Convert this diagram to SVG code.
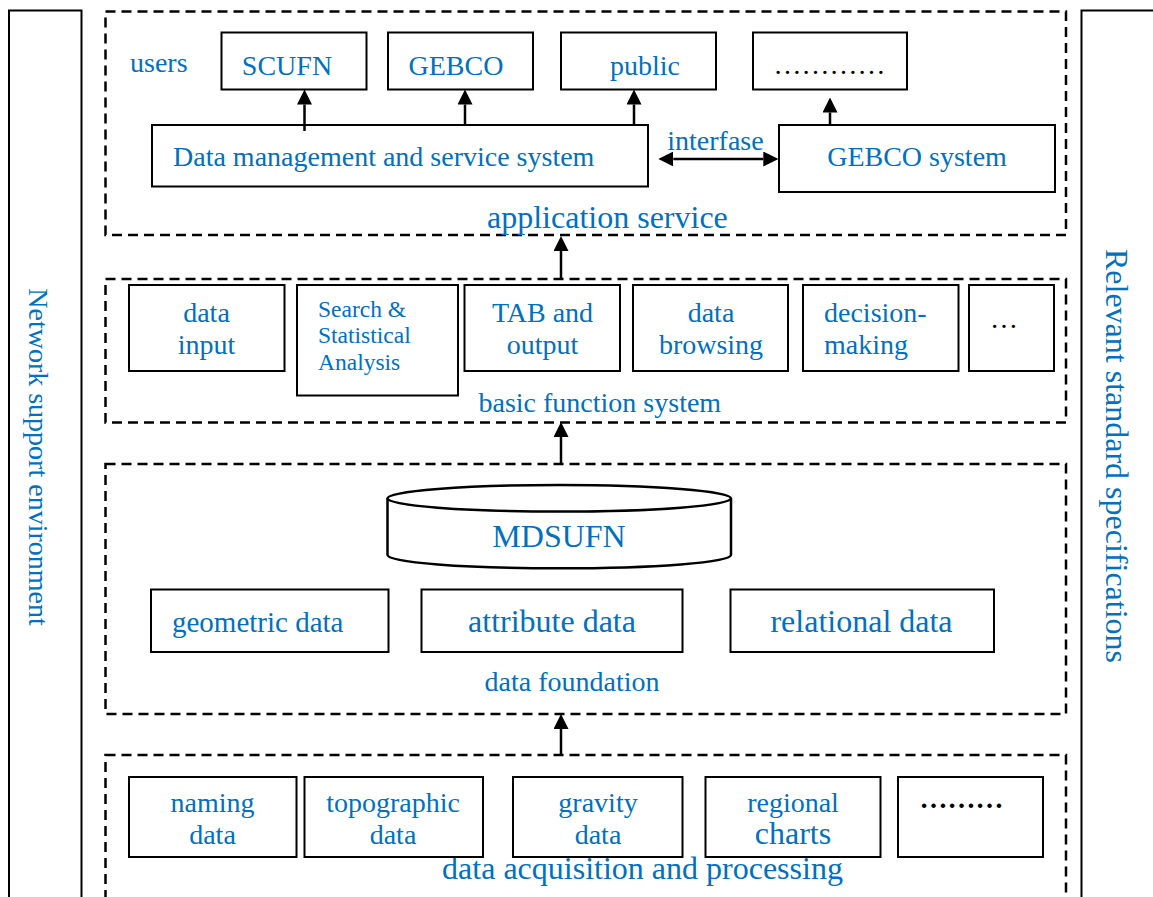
<svg xmlns="http://www.w3.org/2000/svg" width="1153" height="897" viewBox="0 0 1153 897">
<style>
text{font-family:"Liberation Serif","Times New Roman",serif;fill:#0070C0;font-size:28px}
.m{text-anchor:middle}
.k{fill:#000}
.box{fill:#fff;stroke:#000;stroke-width:2}
.dash{fill:none;stroke:#000;stroke-width:2.5;stroke-dasharray:10 6}
.side{fill:#fff;stroke:#000;stroke-width:2}
.arr{stroke:#000;stroke-width:2.5;fill:none}
</style>
<defs>
<marker id="ah" markerWidth="15" markerHeight="15" refX="0" refY="7.5" orient="auto-start-reverse" markerUnits="userSpaceOnUse"><path d="M0,0 L15,7.5 L0,15 z" fill="#000"/></marker>
</defs>
<rect width="1153" height="897" fill="#fff"/>

<g id="network-support">
<rect class="side" x="9" y="10.5" width="72.5" height="900"/>
<text transform="translate(29,457) rotate(90)" class="m">Network support environment</text>
</g>
<g id="relevant-standard">
<rect class="side" x="1081.5" y="10.5" width="100" height="900"/>
<text transform="translate(1106,456) rotate(90)" class="m" style="font-size:32px">Relevant standard specifications</text>
</g>

<g id="application-service">
<rect class="dash" x="105.5" y="11.5" width="960.5" height="223.5"/>
<text x="487" y="228" style="font-size:32px">application service</text>
<text x="130" y="72">users</text>
</g>
<g id="scufn"><rect class="box" x="221.5" y="32.5" width="145" height="57"/><text x="287" y="75" class="m">SCUFN</text></g>
<g id="gebco"><rect class="box" x="388" y="32.5" width="145" height="57"/><text x="456" y="75" class="m">GEBCO</text></g>
<g id="public"><rect class="box" x="561" y="32.5" width="155" height="57"/><text x="645" y="75" class="m">public</text></g>
<g id="more-users"><rect class="box" x="753" y="32.5" width="154" height="57"/><text x="829.5" y="74" class="m k">…………</text></g>
<g id="data-management"><rect class="box" x="152" y="125" width="496" height="61.5"/><text x="173" y="166">Data management and service system</text></g>
<g id="gebco-system"><rect class="box" x="779" y="125" width="276" height="67"/><text x="917" y="166" class="m">GEBCO system</text></g>

<g id="basic-function-system">
<rect class="dash" x="105.5" y="279" width="960.5" height="143.5"/>
<text x="478.5" y="412">basic function system</text>
</g>
<g id="data-input"><rect class="box" x="129" y="285" width="155.5" height="86"/><text class="m" x="206.5" y="322">data</text><text class="m" x="206.5" y="354">input</text></g>
<g id="search"><rect class="box" x="297" y="285" width="161" height="110.5"/><text x="318" y="317" style="font-size:23.5px">Search &amp;</text><text x="318" y="343" style="font-size:23.5px">Statistical</text><text x="318" y="370" style="font-size:23.5px">Analysis</text></g>
<g id="tab-output"><rect class="box" x="464.5" y="285" width="155.5" height="86"/><text class="m" x="542.5" y="322">TAB and</text><text class="m" x="542.5" y="354">output</text></g>
<g id="data-browsing"><rect class="box" x="633" y="285" width="155" height="86"/><text class="m" x="711" y="322">data</text><text class="m" x="711" y="354">browsing</text></g>
<g id="decision-making"><rect class="box" x="803" y="285" width="155.5" height="86"/><text x="824" y="322">decision-</text><text x="824" y="354">making</text></g>
<g id="more-functions"><rect class="box" x="969" y="285" width="85" height="86"/><text class="m k" x="1004" y="328">…</text></g>

<g id="data-foundation">
<rect class="dash" x="105.5" y="464" width="960.5" height="250"/>
<text x="572" y="691" class="m">data foundation</text>
</g>
<g id="mdsufn">
<path d="M387.5,498.3 L387.5,555 A171.7,13.3 0 0 0 731,555 L731,498.3" fill="#fff" stroke="#000" stroke-width="2.5"/>
<ellipse cx="559.2" cy="498.3" rx="171.7" ry="13.3" fill="#fff" stroke="#000" stroke-width="2.5"/>
<text x="559" y="547" class="m" style="font-size:32px">MDSUFN</text>
</g>
<g id="geometric-data"><rect class="box" x="151" y="589.5" width="237.5" height="62.5"/><text x="172" y="632" style="font-size:29px">geometric data</text></g>
<g id="attribute-data"><rect class="box" x="421.5" y="589.5" width="261" height="62.5"/><text x="552" y="632" class="m" style="font-size:32px">attribute data</text></g>
<g id="relational-data"><rect class="box" x="730.5" y="589.5" width="263.5" height="62.5"/><text x="861.5" y="632" class="m" style="font-size:32px">relational data</text></g>

<g id="data-acquisition">
<rect class="dash" x="105.5" y="755" width="960.5" height="160"/>
<text x="642.5" y="879" class="m" style="font-size:32px">data acquisition and processing</text>
</g>
<g id="naming-data"><rect class="box" x="129" y="777" width="167.5" height="80"/><text class="m" x="212.5" y="812">naming</text><text class="m" x="212.5" y="844">data</text></g>
<g id="topographic-data"><rect class="box" x="304.5" y="777" width="178.5" height="80"/><text class="m" x="393" y="812">topographic</text><text class="m" x="393" y="844">data</text></g>
<g id="gravity-data"><rect class="box" x="513" y="777" width="169.5" height="80"/><text class="m" x="598" y="812">gravity</text><text class="m" x="598" y="844">data</text></g>
<g id="regional-charts"><rect class="box" x="705.5" y="777" width="175" height="80"/><text class="m" x="793" y="812">regional</text><text class="m" x="793" y="844" style="font-size:32px">charts</text></g>
<g id="more-data"><rect class="box" x="898" y="777" width="145" height="80"/><text class="m k" x="961.5" y="808" style="font-weight:bold">………</text></g>

<g id="connectors">
<line class="arr" x1="561" y1="278" x2="561" y2="251" marker-end="url(#ah)"/>
<line class="arr" x1="561" y1="464" x2="561" y2="437" marker-end="url(#ah)"/>
<line class="arr" x1="561" y1="755" x2="561" y2="729" marker-end="url(#ah)"/>
<line class="arr" x1="304.5" y1="131" x2="304.5" y2="104.5" marker-end="url(#ah)"/>
<line class="arr" x1="465" y1="125" x2="465" y2="104.5" marker-end="url(#ah)"/>
<line class="arr" x1="634" y1="125" x2="634" y2="104.5" marker-end="url(#ah)"/>
<line class="arr" x1="830" y1="125" x2="830" y2="112.5" marker-end="url(#ah)"/>
<line class="arr" x1="673.3" y1="159" x2="763.3" y2="159" marker-start="url(#ah)" marker-end="url(#ah)"/>
<text x="715.5" y="150" class="m">interfase</text>
</g>
</svg>
